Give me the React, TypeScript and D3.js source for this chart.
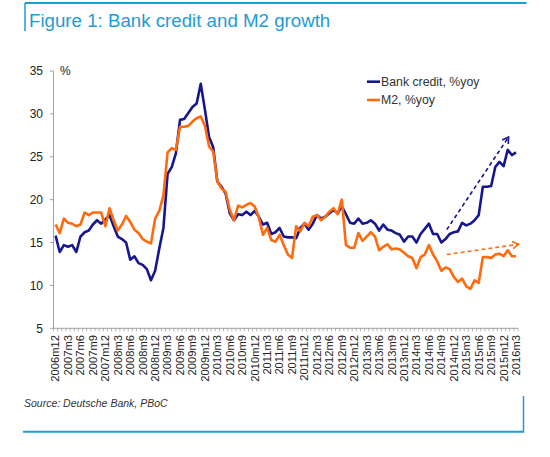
import React from "react";
import * as d3 from "d3";

const tickLabels = [
  "2006m12","2007m3","2007m6","2007m9","2007m12","2008m3","2008m6","2008m9","2008m12",
  "2009m3","2009m6","2009m9","2009m12","2010m3","2010m6","2010m9","2010m12",
  "2011m3","2011m6","2011m9","2011m12","2012m3","2012m6","2012m9","2012m12",
  "2013m3","2013m6","2013m9","2013m12","2014m3","2014m6","2014m9","2014m12",
  "2015m3","2015m6","2015m9","2015m12","2016m3",
];

// monthly values, 2006m12 .. 2016m3
const bankCredit = [
  15.8, 13.9, 14.7, 14.5, 14.7, 13.9, 15.7, 16.2, 16.4, 17.1, 17.6, 17.2,
  17.7, 18.2, 16.9, 15.7, 15.4, 15.0, 13.0, 13.4, 12.6, 12.4, 11.9, 10.6,
  11.7, 14.3, 16.7, 23.0, 23.8, 25.4, 29.3, 29.4, 30.1, 30.8, 31.2, 33.5,
  30.5, 27.3, 26.1, 22.1, 21.5, 20.7, 18.4, 17.6, 18.3, 18.2, 18.6, 18.2,
  18.7, 18.0, 17.1, 17.3, 16.0, 16.2, 16.7, 15.7, 15.6, 15.6, 15.5, 16.7,
  17.2, 16.5, 17.2, 18.2, 17.8, 18.0, 18.4, 18.8, 18.4, 19.2, 18.3, 17.3,
  17.2, 17.8, 17.2, 17.3, 17.6, 17.2, 16.4, 17.1, 16.5, 16.4, 16.1, 15.9,
  15.1, 15.7, 15.7, 15.0, 16.0, 16.6, 17.2, 16.0, 16.0, 15.0, 15.4, 16.0,
  16.2, 16.3, 17.3, 17.0, 17.2, 17.6, 18.2, 21.5, 21.5, 21.6, 23.8, 24.4,
  23.9, 25.8, 25.2, 25.5,
];

const m2 = [
  17.1, 16.1, 17.8, 17.3, 17.2, 16.9, 17.1, 18.5, 18.2, 18.5, 18.5, 18.5,
  16.9, 19.0, 17.6, 16.4, 17.1, 18.1, 17.4, 16.5, 16.1, 15.4, 15.1, 14.9,
  17.8, 18.7, 20.5, 25.5, 26.0, 25.8, 28.5, 28.5, 28.6, 29.1, 29.5, 29.7,
  28.6, 26.2, 25.6, 22.1, 21.3, 20.9, 18.8, 17.6, 19.3, 19.1, 19.4, 19.6,
  19.2, 17.9, 15.9, 16.7, 15.3, 15.1, 15.9, 14.7, 13.6, 13.2, 16.9, 16.3,
  17.3, 16.9, 18.0, 18.2, 17.6, 18.0, 18.6, 19.0, 18.3, 20.0, 14.7, 14.4,
  14.4, 16.1, 15.2, 15.7, 16.2, 15.7, 14.1, 14.5, 14.8, 14.2, 14.3, 14.2,
  13.8, 13.4, 13.2, 12.0, 13.3, 13.6, 14.7, 13.6, 12.8, 11.7, 12.1, 11.9,
  11.0, 10.4, 10.8, 9.9, 9.6, 10.6, 10.3, 13.3, 13.3, 13.2, 13.6, 13.7,
  13.4, 14.1, 13.4, 13.4,
];

const yTicks = [5, 10, 15, 20, 25, 30, 35];

// trend arrows in data units: [startIndex, startValue, endIndex, endValue]
const blueArrow = [94.3, 16.5, 109.2, 27.3];
const orangeArrow = [94.3, 13.6, 111.6, 14.8];

const BLUE = "#161690";
const ORANGE = "#ff6a0d";
const FRAME = "#1f9bd7";
const FONT = "'Liberation Sans', Arial, Helvetica, sans-serif";

export default function App() {
  const W = 550, H = 457;
  const n = bankCredit.length;
  const x = d3.scaleLinear().domain([-0.5, n - 0.5]).range([53.5, 518.1]);
  const y = d3.scaleLinear().domain([5, 35]).range([328.3, 71]);

  const line = d3
    .line<number>()
    .x((_, i) => x(i))
    .y((d) => y(d));

  const arrow = (a: number[], color: string, id: string) => {
    const x1 = x(a[0]), y1 = y(a[1]), x2 = x(a[2]), y2 = y(a[3]);
    const ang = Math.atan2(y2 - y1, x2 - x1);
    const L = 7, sp = 0.55;
    const p1 = [x2 - L * Math.cos(ang - sp), y2 - L * Math.sin(ang - sp)];
    const p2 = [x2 - L * Math.cos(ang + sp), y2 - L * Math.sin(ang + sp)];
    return (
      <g key={id}>
        <line x1={x1} y1={y1} x2={x2} y2={y2} stroke={color} strokeWidth={1.6} strokeDasharray="4,3" />
        <polyline
          points={`${p1[0]},${p1[1]} ${x2},${y2} ${p2[0]},${p2[1]}`}
          fill="none"
          stroke={color}
          strokeWidth={1.6}
        />
      </g>
    );
  };

  const minorTicks = d3.range(n + 1);

  return (
    <svg
      width={W}
      height={H}
      style={{ position: "absolute", left: 0, top: 0, background: "#fff" }}
      fontFamily={FONT}
    >
      <rect x={0} y={0} width={W} height={H} fill="#fff" />
      {/* header frame */}
      <line x1={25} y1={3} x2={526.5} y2={3} stroke={FRAME} strokeWidth={2} />
      <line x1={25} y1={3} x2={25} y2={31} stroke={FRAME} strokeWidth={1.5} />
      <text x={29} y={26.5} fontSize={18.7} fill={FRAME}>
        Figure 1: Bank credit and M2 growth
      </text>

      {/* y axis */}
      <line x1={53.5} y1={y(35)} x2={53.5} y2={y(5)} stroke="#a0a0a0" strokeWidth={1} />
      {yTicks.map((t) => (
        <g key={t}>
          <line x1={50} x2={53.5} y1={y(t)} y2={y(t)} stroke="#a0a0a0" strokeWidth={1} />
          <text x={43} y={y(t)} dy="0.35em" textAnchor="end" fontSize={12} fill="#222">
            {t}
          </text>
        </g>
      ))}
      <text x={60} y={y(35)} dy="0.35em" fontSize={12} fill="#222">%</text>

      {/* x axis */}
      <line x1={53.5} y1={y(5)} x2={x(n - 0.5)} y2={y(5)} stroke="#a0a0a0" strokeWidth={1} />
      {minorTicks.map((k) => (
        <line
          key={k}
          x1={x(k - 0.5)}
          x2={x(k - 0.5)}
          y1={y(5)}
          y2={y(5) + 3}
          stroke="#a0a0a0"
          strokeWidth={0.8}
        />
      ))}
      {tickLabels.map((lab, j) => (
        <text
          key={lab}
          transform={`translate(${x(j * 3)},335) rotate(-90)`}
          dy="0.35em"
          textAnchor="end"
          fontSize={11.2}
          fill="#222"
        >
          {lab}
        </text>
      ))}

      {/* series */}
      <path d={line(bankCredit) || ""} fill="none" stroke={BLUE} strokeWidth={2.6} strokeLinejoin="round" />
      <path d={line(m2) || ""} fill="none" stroke={ORANGE} strokeWidth={2.6} strokeLinejoin="round" />

      {arrow(blueArrow, BLUE, "ba")}
      {arrow(orangeArrow, ORANGE, "oa")}

      {/* legend */}
      <line x1={367} x2={380} y1={81.7} y2={81.7} stroke={BLUE} strokeWidth={2.6} />
      <text x={381} y={81.7} dy="0.35em" fontSize={12.3} fill="#333">Bank credit, %yoy</text>
      <line x1={367} x2={380} y1={100} y2={100} stroke={ORANGE} strokeWidth={2.6} />
      <text x={381} y={100} dy="0.35em" fontSize={12.3} fill="#333">M2, %yoy</text>

      {/* source + footer frame */}
      <text x={24} y={407} fontSize={10.5} fontStyle="italic" fill="#333">
        Source: Deutsche Bank, PBoC
      </text>
      <line x1={23} y1={431.7} x2={524} y2={431.7} stroke={FRAME} strokeWidth={2} />
      <line x1={523.5} y1={396} x2={523.5} y2={432.5} stroke={FRAME} strokeWidth={1.5} />
    </svg>
  );
}
